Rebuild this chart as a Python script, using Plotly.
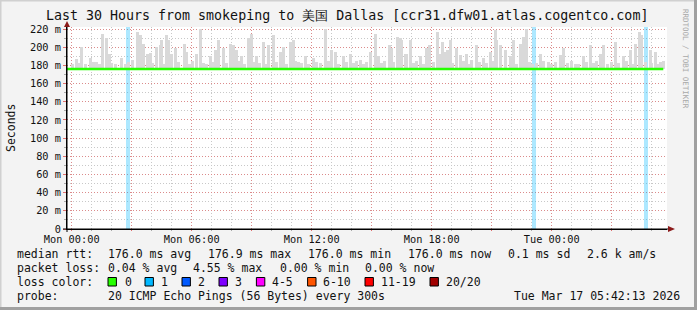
import plotly.graph_objects as go
import pandas as pd

# ---------------- data ----------------
T0 = pd.Timestamp("2026-03-16 00:00")  # Mon 00:00

# smoke spikes (hours since Mon 00:00, max rtt in ms)
spike_hours = [0.22, 0.50, 0.92, 1.07, 1.55, 1.75, 1.87, 2.50, 3.27, 3.42, 3.57, 3.77, 3.92,
               4.25, 4.42, 4.50, 4.72, 4.82, 5.00, 5.17, 5.62, 5.75, 6.25, 6.42, 6.92, 7.17,
               7.32, 7.57, 7.95, 8.07, 8.25, 8.50, 8.82, 9.00, 9.25, 9.57, 9.82, 10.07, 10.42,
               10.57, 10.92, 11.07, 11.32, 11.67, 12.07, 12.67, 13.00, 13.17, 13.57, 13.92,
               14.42, 14.92, 15.17, 15.32, 15.87, 16.00, 16.27, 16.42, 16.50, 16.67, 16.75,
               16.92, 17.42, 17.75, 17.87, 18.27, 18.42, 18.55, 18.67, 18.77, 18.92, 19.22,
               19.42, 19.75, 20.00, 20.25, 20.57, 20.92, 21.17, 21.25, 21.45, 21.67, 21.92,
               22.07, 22.42, 22.57, 22.72, 23.42, 23.82, 24.42, 24.57, 25.17, 25.57, 25.92,
               26.42, 26.57, 27.17, 27.57, 27.92, 28.17, 28.37, 28.50, 28.92, 29.17, 29.42]
spike_max = [186.6, 200.5, 187.7, 184.0, 215.0, 210.0, 193.0, 187.7, 217.0, 213.0, 204.0, 193.0, 194.0,
             200.5, 202.0, 208.0, 213.0, 208.0, 193.0, 199.0, 204.0, 195.0, 193.0, 220.0, 190.0, 197.0,
             208.0, 199.0, 203.5, 202.0, 197.0, 190.0, 210.0, 215.0, 190.0, 206.0, 202.0, 213.0, 195.0,
             200.5, 206.0, 208.0, 184.0, 190.0, 188.0, 220.0, 197.0, 195.0, 190.0, 193.0,
             186.0, 195.0, 215.0, 190.0, 202.0, 199.0, 211.6, 210.0, 208.0, 193.0, 193.0,
             208.0, 190.0, 199.0, 202.0, 217.0, 193.0, 206.0, 195.0, 197.0, 208.0, 199.0,
             191.0, 193.0, 186.0, 202.0, 188.0, 195.0, 219.0, 208.0, 202.0, 197.0, 190.0,
             208.0, 204.0, 211.6, 220.0, 193.0, 184.0, 191.0, 199.0, 182.0, 190.0, 202.0,
             193.0, 202.0, 206.0, 190.0, 197.0, 204.0, 217.0, 213.0, 197.0, 195.0, 184.0]

# low smoke bumps just above the median
bump_hours = [0.05, 0.35, 0.70, 1.25, 1.40, 2.00, 2.20, 2.70, 2.85, 3.05, 4.05, 4.60, 5.35, 5.90,
              6.05, 6.60, 6.75, 7.05, 7.75, 8.35, 8.65, 9.10, 9.40, 9.70, 10.25, 10.75, 11.20,
              11.50, 11.85, 12.25, 12.45, 12.85, 13.35, 13.75, 14.10, 14.25, 14.60, 14.75, 15.50,
              15.65, 16.10, 17.10, 17.25, 17.60, 18.10, 19.05, 19.60, 19.90, 20.40, 20.75, 21.05,
              22.25, 22.90, 23.05, 23.25, 23.60, 24.00, 24.20, 24.80, 25.00, 25.35, 25.75, 26.10,
              26.25, 26.80, 27.00, 27.35, 27.75, 28.05, 28.70, 29.00, 29.30, 29.60]
bump_max = [181, 183, 182, 184, 181, 183, 182, 181, 184, 186, 183, 182, 184, 182,
            185, 183, 182, 184, 183, 185, 182, 184, 183, 181, 184, 182, 185,
            183, 182, 184, 183, 185, 182, 184, 183, 185, 182, 184, 183,
            185, 184, 183, 185, 182, 184, 183, 185, 182, 184, 183, 185,
            182, 184, 182, 183, 185, 182, 184, 183, 185, 182, 184, 183,
            185, 182, 184, 183, 185, 182, 184, 183, 182, 185]
smoke_base = 176.0

# packet loss events (hours since Mon 00:00, lost pings out of 20)
loss_hours = [2.82, 23.10, 28.69]
loss_count = [1, 1, 1]

# median rtt
median_hours = [-0.24, 29.58]
median_rtt = [176.0, 176.0]

# axes
y_ticks = [0, 20, 40, 60, 80, 100, 120, 140, 160, 180, 200, 220]
y_labels = ["0", "20 m", "40 m", "60 m", "80 m", "100 m", "120 m", "140 m", "160 m",
            "180 m", "200 m", "220 m"]
x_tick_hours = [0, 3, 6, 9, 12, 15, 18, 21, 24, 27]
x_tick_labels = ["Mon 00:00", "", "Mon 06:00", "", "Mon 12:00", "", "Mon 18:00", "",
                 "Tue 00:00", ""]
x_range_hours = [-0.235, 29.765]
y_range = [0, 222.2]

loss_legend = ["0", "1", "2", "3", "4-5", "6-10", "11-19", "20/20"]
loss_colors = ["#26ff00", "#00b8ff", "#0059ff", "#7e00ff", "#ff00ff", "#ff5500", "#ff0000", "#a10000"]

# ---------------- helpers ----------------
W, H = 697, 310
L, R, T, B = 67, 667, 27, 229
MONO = "DejaVu Sans Mono"


def ts(hours):
    return [T0 + pd.Timedelta(hours=h) for h in hours]


def px(x):
    return (x - L) / (R - L)


def py(y):
    return (B - y) / (B - T)


fig = go.Figure()

# loss bars (full height)
fig.add_trace(go.Bar(
    x=ts(loss_hours), y=[y_range[1]] * len(loss_hours), base=0,
    width=720000, marker=dict(color="rgba(0,184,255,0.32)", line_width=0),
    hoverinfo="skip"))

# smoke
fig.add_trace(go.Bar(
    x=ts(bump_hours), y=[v - smoke_base for v in bump_max], base=smoke_base,
    width=540000, marker=dict(color="#dadada", line_width=0), hoverinfo="skip"))
fig.add_trace(go.Bar(
    x=ts(spike_hours), y=[v - smoke_base for v in spike_max], base=smoke_base,
    width=540000, marker=dict(color="#d9d9d9", line_width=0), hoverinfo="skip"))

# median line
fig.add_trace(go.Scatter(
    x=ts(median_hours), y=median_rtt, mode="lines",
    line=dict(color=loss_colors[0], width=2.5), hoverinfo="skip"))

# median line colored by loss at loss times
fig.add_trace(go.Bar(
    x=ts(loss_hours), y=[2.6] * len(loss_hours), base=median_rtt[0] - 1.3,
    width=720000, marker=dict(color="#0aa0f0", line_width=0), hoverinfo="skip"))

fig.update_layout(
    width=W, height=H,
    margin=dict(l=L, r=W - R, t=T, b=H - B, pad=0),
    paper_bgcolor="#f3f3f3", plot_bgcolor="#ffffff",
    showlegend=False, barmode="overlay", bargap=0,
    font=dict(family=MONO, size=10.3, color="#111111"),
)

fig.update_xaxes(
    type="date", range=ts(x_range_hours),
    tickmode="array", tickvals=ts(x_tick_hours), ticktext=x_tick_labels,
    showgrid=True, gridcolor="rgba(235,90,90,0.55)", griddash="1px,2px", gridwidth=1,
    ticks="outside", ticklen=1, tickcolor="#e07070",
    minor=dict(dtick=3600000, tick0=T0, showgrid=True, gridcolor="#c8c8c8",
               griddash="1px,2px", ticks="outside", ticklen=1, tickcolor="#aaaaaa"),
    showline=True, linecolor="#000000", linewidth=1,
    zeroline=False, tickfont=dict(family=MONO, size=10.3, color="#111111"),
)
fig.update_yaxes(
    range=y_range, tickmode="array", tickvals=y_ticks, ticktext=y_labels,
    showgrid=True, gridcolor="rgba(235,90,90,0.55)", griddash="1px,2px", gridwidth=1,
    ticks="outside", ticklen=3, tickcolor="#e07070",
    minor=dict(dtick=10, tick0=0, showgrid=True, gridcolor="#c8c8c8",
               griddash="1px,2px", ticks="outside", ticklen=2, tickcolor="#aaaaaa"),
    showline=True, linecolor="#000000", linewidth=1,
    zeroline=False, tickfont=dict(family=MONO, size=10.3, color="#111111"),
)

shapes = []
# axis extensions and arrows
shapes.append(dict(type="line", xref="paper", yref="paper", x0=px(67), x1=px(67),
                   y0=py(232), y1=py(25), line=dict(color="#000", width=1)))
shapes.append(dict(type="line", xref="paper", yref="paper", x0=px(63), x1=px(669),
                   y0=py(229), y1=py(229), line=dict(color="#000", width=1)))
shapes.append(dict(type="path", xref="paper", yref="paper",
                   path=f"M {px(67)},{py(21)} L {px(70)},{py(27)} L {px(64)},{py(27)} Z",
                   fillcolor="#8b1a1a", line=dict(width=0)))
shapes.append(dict(type="path", xref="paper", yref="paper",
                   path=f"M {px(675)},{py(229)} L {px(668)},{py(226)} L {px(668)},{py(232)} Z",
                   fillcolor="#8b1a1a", line=dict(width=0)))
# frame
shapes.append(dict(type="rect", xref="paper", yref="paper", x0=px(0), x1=px(697),
                   y0=py(0), y1=py(1.5), fillcolor="#d0d0d0", line=dict(width=0)))
shapes.append(dict(type="rect", xref="paper", yref="paper", x0=px(0), x1=px(1.5),
                   y0=py(0), y1=py(310), fillcolor="#d0d0d0", line=dict(width=0)))
shapes.append(dict(type="rect", xref="paper", yref="paper", x0=px(694), x1=px(697),
                   y0=py(0), y1=py(310), fillcolor="#a0a0a0", line=dict(width=0)))
shapes.append(dict(type="rect", xref="paper", yref="paper", x0=px(0), x1=px(697),
                   y0=py(307), y1=py(310), fillcolor="#a0a0a0", line=dict(width=0)))

# loss color swatches
sw_x = [108, 145, 182, 219, 256.4, 307.6, 365, 430]
lab_x = [123.5, 160, 197, 233.8, 271, 321.8, 380, 445.3]
for sx, col in zip(sw_x, loss_colors):
    shapes.append(dict(type="rect", xref="paper", yref="paper", x0=px(sx), x1=px(sx + 8.4),
                       y0=py(277.5), y1=py(286), fillcolor=col,
                       line=dict(color="#000000", width=1)))
fig.update_layout(shapes=shapes)

ann = []


def text(t, x, y, size=11.5, anchor="left", color="#111111", angle=0, yanchor="middle"):
    ann.append(dict(text=t, x=px(x), y=py(y), xref="paper", yref="paper",
                    xanchor=anchor, yanchor=yanchor, showarrow=False, borderpad=0,
                    textangle=angle, font=dict(family=MONO, size=size, color=color)))


text("Last 30 Hours from smokeping to 美国 Dallas [ccr31.dfw01.atlas.cogentco.com]",
     347, 15.5, size=13.3, anchor="center")
text("Seconds", 11, 128, size=11.5, anchor="center", angle=-90)
text("RRDTOOL / TOBI OETIKER", 686, 59, size=7.5, anchor="center", color="#a8a8a8", angle=90)

row1, row2, row3, row4 = 254, 268, 282, 296
text("median rtt:", 16, row1)
for t, x in zip(["176.0 ms avg", "176.9 ms max", "176.0 ms min", "176.0 ms now",
                 "0.1 ms sd", "2.6 k am/s"], [107, 207, 307, 407, 506.5, 585.5]):
    text(t, x, row1)
text("packet loss:", 16, row2)
for t, x in zip(["0.04 % avg", "4.55 % max", "0.00 % min", "0.00 % now"],
                [107, 192, 278.5, 364]):
    text(t, x, row2)
text("loss color:", 16, row3)
for t, x in zip(loss_legend, lab_x):
    text(t, x, row3)
text("probe:", 16, row4)
text("20 ICMP Echo Pings (56 Bytes) every 300s", 107, row4)
text("Tue Mar 17 05:42:13 2026", 681, row4, anchor="right")

fig.update_layout(annotations=ann)
fig.write_html("out.html")
